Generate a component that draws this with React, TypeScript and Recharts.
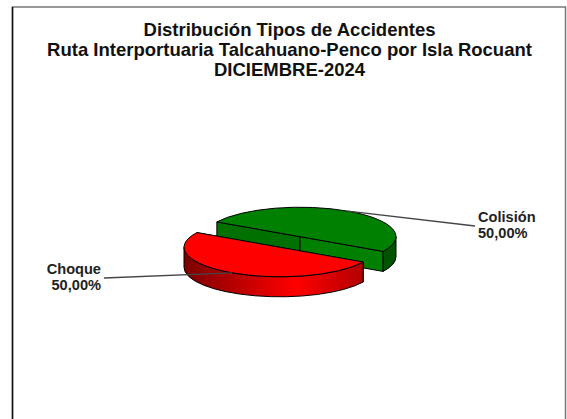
import React from 'react';
import { PieChart, Pie, Cell } from 'recharts';

const categories = ['Colisión', 'Choque'];
const shares = [50, 50];
const titleLines = [
  'Distribución Tipos de Accidentes',
  'Ruta Interportuaria Talcahuano-Penco por Isla Rocuant',
  'DICIEMBRE-2024',
];

const topColors = ['#008000', '#ff0000'];
const wallColors = ['#005400', 'url(#redWall)'];
const faceColors = [['#007000', '#008000'], ['#800000', '#800000']];

const data = categories.map((name, i) => ({ name, value: shares[i] }));

const SQUASH = 0.307;
const DEPTH = 20;
const EXPLODE = 20;
const FONT = '"Liberation Sans", Arial, sans-serif';

const rad = (a: number) => (a * Math.PI) / 180;

// slice drawn as a flattened sector with a wall under it
function Slice3D(props: any) {
  const { cx, cy, outerRadius: r, startAngle, endAngle, midAngle, index } = props;
  const x = cx + EXPLODE * Math.cos(rad(midAngle));
  const y = cy - EXPLODE * Math.sin(rad(midAngle)) * SQUASH;
  const px = (a: number) => x + r * Math.cos(rad(a));
  const py = (a: number) => y - r * SQUASH * Math.sin(rad(a));
  const ry = r * SQUASH;

  const top = `M${x},${y} L${px(startAngle)},${py(startAngle)} A${r},${ry} 0 0 0 ${px(endAngle)},${py(endAngle)} Z`;
  const face = (a: number) =>
    `M${x},${y} L${px(a)},${py(a)} L${px(a)},${py(a) + DEPTH} L${x},${y + DEPTH} Z`;

  // only the front half of the rim can be seen
  const from = index === 0 ? startAngle : 180;
  const to = index === 0 ? 0 : endAngle;
  const wall = `M${px(from)},${py(from)} A${r},${ry} 0 0 0 ${px(to)},${py(to)} L${px(to)},${py(to) + DEPTH} A${r},${ry} 0 0 1 ${px(from)},${py(from) + DEPTH} Z`;

  return (
    <g stroke="#000" strokeWidth={1} strokeLinejoin="round">
      <path d={face(endAngle)} fill={faceColors[index][0]} />
      <path d={face(startAngle)} fill={faceColors[index][1]} />
      <path d={wall} fill={wallColors[index]} />
      <path d={top} fill={topColors[index]} />
    </g>
  );
}

const labelEnds = [
  { x: 475, y: 226, tx: 478, anchor: 'start' },
  { x: 104, y: 278, tx: 101, anchor: 'end' },
];
const labelRows = [
  [222, 238],
  [274, 290],
];

function SliceLabel(props: any) {
  const { cx, cy, outerRadius: r, midAngle, index, name, percent } = props;
  const x = cx + (EXPLODE + r) * Math.cos(rad(midAngle));
  const y = cy - (EXPLODE + r) * Math.sin(rad(midAngle)) * SQUASH;
  const end = labelEnds[index];
  const pct = `${(percent * 100).toFixed(2).replace('.', ',')}%`;
  return (
    <g>
      <line x1={x} y1={y} x2={end.x} y2={end.y} stroke="#444" strokeWidth={1.4} />
      <text x={end.tx} y={labelRows[index][0]} textAnchor={end.anchor} fontFamily={FONT} fontWeight="bold" fontSize={14.6} fill="#222">
        {name}
      </text>
      <text x={end.tx} y={labelRows[index][1]} textAnchor={end.anchor} fontFamily={FONT} fontWeight="bold" fontSize={14.6} fill="#222">
        {pct}
      </text>
    </g>
  );
}

export default function App() {
  return (
    <div style={{ position: 'absolute', left: 0, top: 0, width: 567, height: 419, background: '#fff' }}>
      <PieChart width={567} height={419} margin={{ top: 0, right: 0, bottom: 0, left: 0 }}>
        <defs>
          <linearGradient id="redWall" x1="0" y1="0" x2="1" y2="0">
            <stop offset="0%" stopColor="#7c0000" />
            <stop offset="62%" stopColor="#ff0000" />
            <stop offset="100%" stopColor="#b40000" />
          </linearGradient>
        </defs>
        <rect x={12.5} y={7} width={553} height={420} fill="none" stroke="#777" strokeWidth={1.5} />
        <line x1={12.5} y1={7} x2={12.5} y2={419} stroke="#111" strokeWidth={1.5} />
        {titleLines.map((line, i) => (
          <text key={line} x={289.5} y={36 + i * 20.2} textAnchor="middle" fontFamily={FONT} fontWeight="bold" fontSize={18.5} fill="#111">
            {line}
          </text>
        ))}
        <Pie
          data={data}
          dataKey="value"
          nameKey="name"
          cx={290}
          cy={242}
          outerRadius={96}
          startAngle={-30}
          endAngle={330}
          paddingAngle={0}
          shape={Slice3D}
          label={SliceLabel}
          labelLine={false}
          isAnimationActive={false}
        >
          {data.map((d, i) => (
            <Cell key={d.name} fill={topColors[i]} />
          ))}
        </Pie>
      </PieChart>
    </div>
  );
}
